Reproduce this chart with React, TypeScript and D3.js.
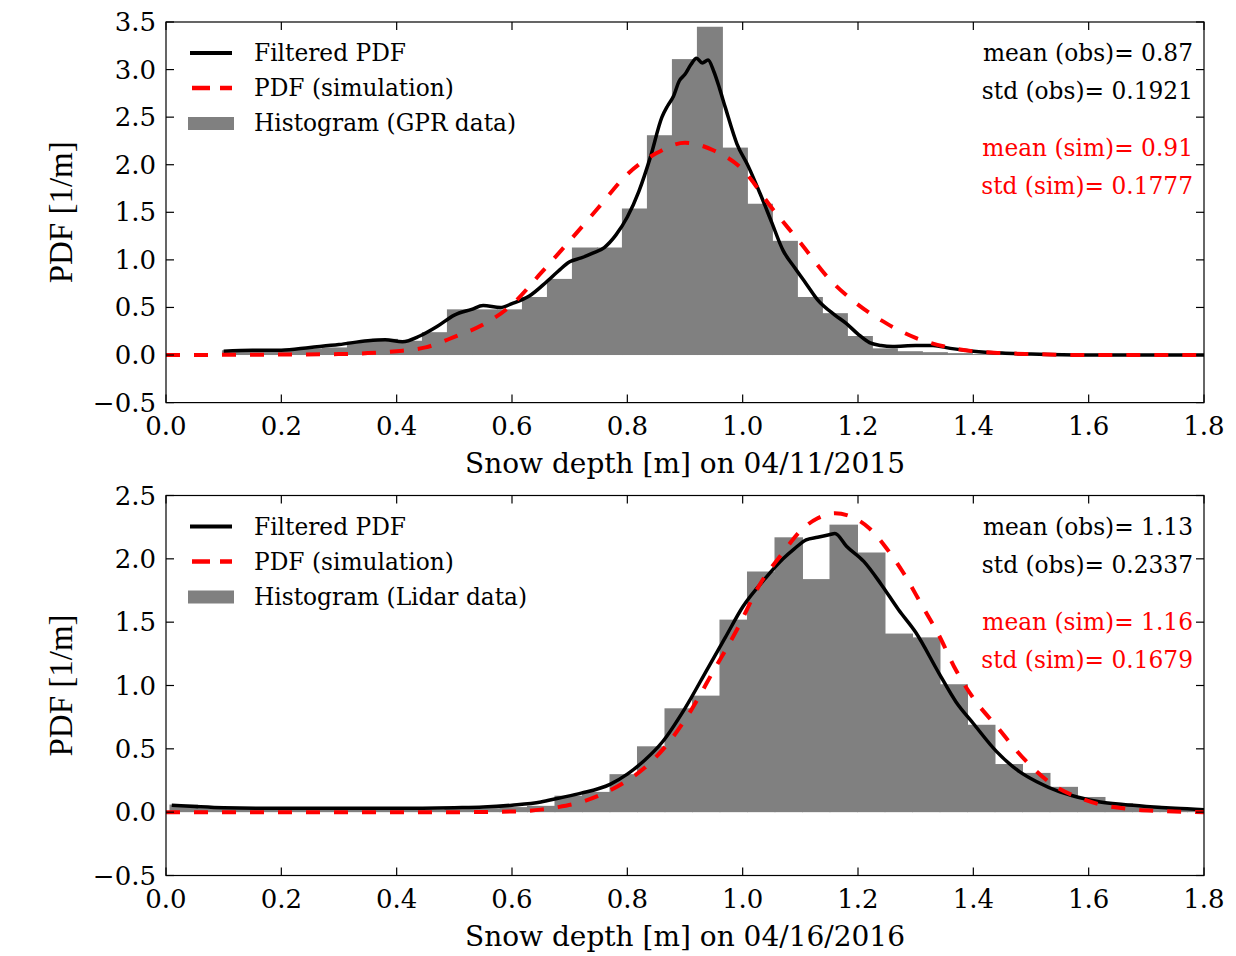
import React from "react";
import * as d3 from "d3";

// ---- data ----
// top panel (GPR, 04/11/2015)
const gprBinStart = 0.097;
const gprBinWidth = 0.04335;
const gprHist = [
  0.05, 0.06, 0.06, 0.07, 0.08, 0.14, 0.17, 0.15, 0.24, 0.48, 0.48, 0.48,
  0.61, 0.8, 1.13, 1.13, 1.54, 2.31, 3.11, 3.45, 2.18, 1.59, 1.2, 0.61, 0.44,
  0.2, 0.07, 0.04, 0.03, 0.02, 0.01, 0.01, 0.01, 0.005, 0.005,
];
const gprFilteredX = [
  0.1, 0.15, 0.2, 0.25, 0.3, 0.35, 0.38, 0.41, 0.44, 0.47, 0.5, 0.53, 0.55,
  0.58, 0.6, 0.63, 0.66, 0.68, 0.7, 0.72, 0.74, 0.76, 0.78, 0.8, 0.82, 0.84,
  0.86, 0.87, 0.88, 0.89, 0.9, 0.91, 0.92, 0.93, 0.94, 0.95, 0.96, 0.97, 0.99,
  1.01, 1.03, 1.05, 1.07, 1.09, 1.11, 1.13, 1.16, 1.18, 1.2, 1.22, 1.24, 1.26,
  1.3, 1.33, 1.36, 1.4, 1.45, 1.5, 1.6, 1.8,
];
const gprFilteredY = [
  0.04, 0.05, 0.05, 0.08, 0.11, 0.15, 0.16, 0.14, 0.2, 0.3, 0.42, 0.48, 0.52,
  0.5, 0.54, 0.62, 0.77, 0.88, 0.98, 1.02, 1.07, 1.13, 1.26, 1.45, 1.72, 2.08,
  2.5, 2.62, 2.72, 2.88, 2.95, 3.05, 3.12, 3.07, 3.1, 2.98, 2.8, 2.6, 2.22,
  1.98, 1.7, 1.4, 1.1, 0.92, 0.75, 0.58, 0.42, 0.33, 0.22, 0.13, 0.1, 0.09,
  0.1, 0.1, 0.07, 0.04, 0.02, 0.01, 0, 0,
];
const gprSimX = [
  0, 0.3, 0.35, 0.4, 0.45, 0.5, 0.55, 0.6, 0.65, 0.7, 0.75, 0.8, 0.85, 0.9,
  0.95, 1.0, 1.05, 1.1, 1.15, 1.2, 1.25, 1.3, 1.35, 1.4, 1.45, 1.5, 1.6, 1.8,
];
const gprSimY = [
  0, 0.01, 0.02, 0.04, 0.08, 0.19, 0.32, 0.53, 0.86, 1.2, 1.55, 1.9, 2.12,
  2.23, 2.15, 1.95, 1.55, 1.18, 0.8, 0.53, 0.33, 0.18, 0.09, 0.04, 0.02, 0.01,
  0, 0,
];

// bottom panel (Lidar, 04/16/2016)
const lidarBinStart = 0.006;
const lidarBinWidth = 0.04769;
const lidarHist = [
  0.06, 0.03, 0.03, 0.03, 0.03, 0.02, 0.02, 0.02, 0.02, 0.02, 0.03, 0.03,
  0.04, 0.05, 0.13, 0.16, 0.3, 0.52, 0.82, 0.92, 1.52, 1.9, 2.17, 1.84, 2.27,
  2.05, 1.41, 1.38, 1.01, 0.69, 0.38, 0.31, 0.2, 0.12, 0.07, 0.05, 0.03, 0.02,
];
const lidarFilteredX = [
  0.01, 0.05, 0.1, 0.2, 0.3, 0.4, 0.5, 0.55, 0.6, 0.65, 0.68, 0.72, 0.77, 0.8,
  0.83, 0.86, 0.9, 0.94, 0.97, 1.0, 1.04, 1.07, 1.09, 1.11, 1.13, 1.15, 1.16,
  1.18, 1.21, 1.24, 1.27, 1.3, 1.34, 1.37, 1.4, 1.44, 1.48, 1.51, 1.55, 1.58,
  1.62, 1.66, 1.7, 1.75, 1.8,
];
const lidarFilteredY = [
  0.055, 0.045, 0.035, 0.03, 0.03, 0.03, 0.035, 0.04, 0.055, 0.08, 0.11, 0.15,
  0.22, 0.3, 0.41, 0.55, 0.82, 1.14, 1.38, 1.62, 1.85, 2.0, 2.08, 2.15, 2.17,
  2.19, 2.2, 2.1, 1.98, 1.8, 1.6, 1.42, 1.1, 0.87, 0.7, 0.48, 0.32, 0.24, 0.16,
  0.12, 0.08, 0.06, 0.045, 0.03, 0.02,
];
const lidarSimX = [
  0, 0.5, 0.6, 0.65, 0.68, 0.72, 0.76, 0.8, 0.83, 0.87, 0.91, 0.95, 0.99, 1.03,
  1.07, 1.1, 1.13, 1.16, 1.19, 1.22, 1.25, 1.28, 1.31, 1.34, 1.37, 1.4, 1.44,
  1.49, 1.54, 1.58, 1.62, 1.67, 1.72, 1.8,
];
const lidarSimY = [
  0, 0, 0.005, 0.02, 0.04, 0.08, 0.15, 0.25, 0.35, 0.54, 0.8, 1.12, 1.44, 1.8,
  2.05, 2.22, 2.32, 2.36, 2.33, 2.24, 2.08, 1.88, 1.64, 1.4, 1.12, 0.9, 0.68,
  0.41, 0.21, 0.12, 0.06, 0.025, 0.01, 0,
];

const xTicks = [0, 0.2, 0.4, 0.6, 0.8, 1.0, 1.2, 1.4, 1.6, 1.8];
const gprYTicks = [-0.5, 0, 0.5, 1.0, 1.5, 2.0, 2.5, 3.0, 3.5];
const lidarYTicks = [-0.5, 0, 0.5, 1.0, 1.5, 2.0, 2.5];

const SERIF = "'DejaVu Serif', serif";
const GRAY = "#808080";
const RED = "#ff0000";

type Pt = { x: number; y: number };
const zipPts = (xs: number[], ys: number[]): Pt[] =>
  xs.map((x, i) => ({ x, y: ys[i] }));

interface PanelProps {
  id: string;
  top: number;
  bottom: number;
  yMax: number;
  yTicks: number[];
  hist: number[];
  binStart: number;
  binWidth: number;
  filtered: Pt[];
  sim: Pt[];
  histLabel: string;
  xLabel: string;
  stats: string[];
}

const LEFT = 166;
const RIGHT = 1204;

const fmtTick = (v: number) => (v < 0 ? "\u2212" : "") + Math.abs(v).toFixed(1);

const Panel: React.FC<PanelProps> = (p) => {
  const x = d3.scaleLinear().domain([0, 1.8]).range([LEFT, RIGHT]);
  const y = d3.scaleLinear().domain([-0.5, p.yMax]).range([p.bottom, p.top]);

  const line = d3
    .line<Pt>()
    .x((d) => x(d.x))
    .y((d) => y(d.y))
    .curve(d3.curveMonotoneX);

  const tickLen = 8;
  const clipId = `clip-${p.id}`;

  // legend rows
  const legY0 = p.top + 31;
  const legDy = 35;

  return (
    <g>
      <defs>
        <clipPath id={clipId}>
          <rect x={LEFT} y={p.top} width={RIGHT - LEFT} height={p.bottom - p.top} />
        </clipPath>
      </defs>

      <g clipPath={`url(#${clipId})`}>
        {p.hist.map((h, i) => {
          const x0 = x(p.binStart + i * p.binWidth);
          const x1 = x(p.binStart + (i + 1) * p.binWidth);
          return (
            <rect
              key={i}
              x={x0}
              y={y(h)}
              width={x1 - x0 + 1}
              height={y(0) - y(h)}
              fill={GRAY}
            />
          );
        })}
        <path
          d={line(p.filtered) || ""}
          fill="none"
          stroke="#000"
          strokeWidth={3.5}
          strokeLinejoin="round"
        />
        <path
          d={line(p.sim) || ""}
          fill="none"
          stroke={RED}
          strokeWidth={4}
          strokeDasharray="14,14"
        />
      </g>

      {/* frame */}
      <rect
        x={LEFT}
        y={p.top}
        width={RIGHT - LEFT}
        height={p.bottom - p.top}
        fill="none"
        stroke="#000"
        strokeWidth={1.2}
      />

      {/* x ticks (inside, top and bottom) */}
      {xTicks.map((t) => (
        <g key={`x${t}`}>
          <line x1={x(t)} x2={x(t)} y1={p.bottom} y2={p.bottom - tickLen} stroke="#000" strokeWidth={1.2} />
          <line x1={x(t)} x2={x(t)} y1={p.top} y2={p.top + tickLen} stroke="#000" strokeWidth={1.2} />
          <text
            x={x(t)}
            y={p.bottom + 32}
            textAnchor="middle"
            fontFamily={SERIF}
            fontSize={26}
          >
            {fmtTick(t)}
          </text>
        </g>
      ))}

      {/* y ticks (inside, left and right) */}
      {p.yTicks.map((t) => (
        <g key={`y${t}`}>
          <line x1={LEFT} x2={LEFT + tickLen} y1={y(t)} y2={y(t)} stroke="#000" strokeWidth={1.2} />
          <line x1={RIGHT} x2={RIGHT - tickLen} y1={y(t)} y2={y(t)} stroke="#000" strokeWidth={1.2} />
          <text
            x={LEFT - 10}
            y={y(t) + 9}
            textAnchor="end"
            fontFamily={SERIF}
            fontSize={26}
          >
            {fmtTick(t)}
          </text>
        </g>
      ))}

      <text
        x={685}
        y={p.bottom + 70}
        textAnchor="middle"
        fontFamily={SERIF}
        fontSize={28}
      >
        {p.xLabel}
      </text>
      <text
        transform={`translate(72, ${(p.top + p.bottom) / 2}) rotate(-90)`}
        textAnchor="middle"
        fontFamily="'Liberation Serif', serif"
        fontSize={33}
      >
        PDF [1/m]
      </text>

      {/* legend */}
      <line x1={190} x2={232} y1={legY0} y2={legY0} stroke="#000" strokeWidth={4} />
      <text x={254} y={legY0 + 8} fontFamily={SERIF} fontSize={23.3}>
        Filtered PDF
      </text>
      <line
        x1={192}
        x2={232}
        y1={legY0 + legDy}
        y2={legY0 + legDy}
        stroke={RED}
        strokeWidth={4.5}
        strokeDasharray="18,10"
      />
      <text x={254} y={legY0 + legDy + 8} fontFamily={SERIF} fontSize={23.3}>
        PDF (simulation)
      </text>
      <rect x={188} y={legY0 + 2 * legDy - 6} width={46} height={13} fill={GRAY} />
      <text x={254} y={legY0 + 2 * legDy + 8} fontFamily={SERIF} fontSize={23.3}>
        {p.histLabel}
      </text>

      {/* statistics */}
      {p.stats.map((s, i) => (
        <text
          key={s}
          x={1193}
          y={legY0 + 8 + (i < 2 ? i * 38 : 19 + i * 38)}
          textAnchor="end"
          fontFamily={SERIF}
          fontSize={23.3}
          fill={i < 2 ? "#000" : RED}
        >
          {s}
        </text>
      ))}
    </g>
  );
};

export default function App() {
  return (
    <svg
      width={1236}
      height={956}
      style={{ position: "absolute", left: 0, top: 0, background: "#fff" }}
    >
      <rect width={1236} height={956} fill="#fff" />
      <Panel
        id="gpr"
        top={22}
        bottom={402.6}
        yMax={3.5}
        yTicks={gprYTicks}
        hist={gprHist}
        binStart={gprBinStart}
        binWidth={gprBinWidth}
        filtered={zipPts(gprFilteredX, gprFilteredY)}
        sim={zipPts(gprSimX, gprSimY)}
        histLabel="Histogram (GPR data)"
        xLabel="Snow depth [m] on 04/11/2015"
        stats={[
          "mean (obs)= 0.87",
          "std (obs)= 0.1921",
          "mean (sim)= 0.91",
          "std (sim)= 0.1777",
        ]}
      />
      <Panel
        id="lidar"
        top={495.5}
        bottom={875.5}
        yMax={2.5}
        yTicks={lidarYTicks}
        hist={lidarHist}
        binStart={lidarBinStart}
        binWidth={lidarBinWidth}
        filtered={zipPts(lidarFilteredX, lidarFilteredY)}
        sim={zipPts(lidarSimX, lidarSimY)}
        histLabel="Histogram (Lidar data)"
        xLabel="Snow depth [m] on 04/16/2016"
        stats={[
          "mean (obs)= 1.13",
          "std (obs)= 0.2337",
          "mean (sim)= 1.16",
          "std (sim)= 0.1679",
        ]}
      />
    </svg>
  );
}
